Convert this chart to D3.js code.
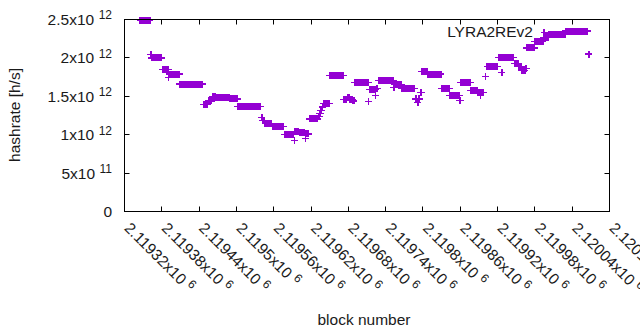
<!DOCTYPE html>
<html><head><meta charset="utf-8">
<script src="https://cdn.jsdelivr.net/npm/d3@7"></script>
<style>
body{margin:0;background:#fff}
svg{display:block}
text{font-family:"Liberation Sans",Arial,sans-serif;fill:#1a1a1a}
</style>
</head><body>
<svg id="chart" width="640" height="330"></svg>
<script>
// ---- data (block offsets relative to blockBase; hashrate in units of 1e12 h/s) ----
const blockBase = 2119320;
const runStart = [25,42,44,61,71,72,89,127,135,141,147,169,182,220,222,226,238,257,273,274,281,291,292,297,312,314,316,318,320,330,353,358,362,367,370,393,394,404,405,408,433,435,446,468,471,473,476,478,488,510,523,539,541,557,568,572,573,580,583,601,607,608,627,634,639,645,647,660,674,682,710,747];
const runEnd   = [41,43,60,70,71,88,126,134,140,146,168,181,219,221,225,237,256,272,273,280,290,291,296,311,313,315,317,319,329,352,357,361,366,369,392,393,403,404,407,432,434,445,467,470,472,475,477,487,509,522,538,540,556,567,571,572,578,581,600,606,607,626,633,638,644,646,659,673,681,709,745,747];
const runRate  = [2.49,2.045,2.0,1.845,1.745,1.79,1.66,1.39,1.44,1.50,1.485,1.465,1.37,1.22,1.185,1.145,1.105,1.005,0.925,1.04,1.03,0.955,1.01,1.205,1.24,1.28,1.32,1.36,1.405,1.77,1.455,1.48,1.46,1.44,1.675,1.43,1.59,1.515,1.605,1.705,1.61,1.65,1.605,1.465,1.415,1.465,1.545,1.82,1.79,1.60,1.51,1.445,1.675,1.575,1.55,1.51,1.55,1.755,1.89,2.01,1.806,2.01,1.93,1.885,1.84,1.86,2.13,2.215,2.265,2.31,2.35,2.05];

const xTickValues   = [2119320,2119380,2119440,2119500,2119560,2119620,2119680,2119740,2119800,2119860,2119920,2119980,2120040,2120100];
const xTickMantissa = ["2.11932","2.11938","2.11944","2.1195","2.11956","2.11962","2.11968","2.11974","2.1198","2.11986","2.11992","2.11998","2.12004","2.1201"];
const xTickExponent = "6";
const yTickValues   = [0,5e11,1e12,1.5e12,2e12,2.5e12];
const yTickMantissa = ["0","5x10","1x10","1.5x10","2x10","2.5x10"];
const yTickExponent = ["","11","12","12","12","12"];
const seriesName = "LYRA2REv2";
const xTitle = "block number";
const yTitle = "hashrate [h/s]";

// ---- build point table ----
const points = [];
runStart.forEach((s, i) => {
  for (let b = s; b <= runEnd[i]; b++) points.push({block: blockBase + b, rate: runRate[i] * 1e12});
});

const svg = d3.select("#chart");
const L = 124.5, R = 609.5, T = 19.5, B = 211.5;
const color = "#9400d3";
const x = d3.scaleLinear().domain([2119320, 2120100]).range([L, R]);
const y = d3.scaleLinear().domain([0, 2.5e12]).range([B, T]);
const tick = 5, ps = 3.5;

// ticks (inward, mirrored)
const g = svg.append("g").attr("stroke", "#000").attr("stroke-width", 1);
xTickValues.forEach(v => {
  const px = Math.round(x(v) - 0.5) + 0.5;
  g.append("line").attr("x1", px).attr("x2", px).attr("y1", B).attr("y2", B - tick);
  g.append("line").attr("x1", px).attr("x2", px).attr("y1", T).attr("y2", T + tick);
});
yTickValues.forEach(v => {
  const py = Math.round(y(v) - 0.5) + 0.5;
  g.append("line").attr("x1", L).attr("x2", L + tick).attr("y1", py).attr("y2", py);
  g.append("line").attr("x1", R).attr("x2", R - tick).attr("y1", py).attr("y2", py);
});

// y tick labels
yTickValues.forEach((v, i) => {
  const t = svg.append("text").attr("x", 112).attr("y", y(v) + 5.4)
    .attr("text-anchor", "end").style("font-size", "15.5px");
  t.append("tspan").text(yTickMantissa[i]);
  if (yTickExponent[i]) t.append("tspan").attr("dx", 4.5).attr("dy", -5.5).style("font-size", "12px").text(yTickExponent[i]);
});

// x tick labels (rotated)
xTickValues.forEach((v, i) => {
  const t = svg.append("text")
    .attr("transform", `translate(${x(v) - 1},${229}) rotate(45)`)
    .attr("text-anchor", "start").style("font-size", "15.5px");
  t.append("tspan").text(xTickMantissa[i] + "x10");
  t.append("tspan").attr("dx", 4.5).attr("dy", -5.5).style("font-size", "12px").text(xTickExponent);
});

// titles
svg.append("text").attr("x", 364).attr("y", 325).attr("text-anchor", "middle").style("font-size", "15.5px").text(xTitle);
svg.append("text").attr("transform", "translate(20,115) rotate(-90)").attr("text-anchor", "middle").style("font-size", "15.5px").text(yTitle);

// points
svg.append("g").attr("shape-rendering", "crispEdges").selectAll("path").data(points).join("path")
  .attr("d", d => {
    const px = x(d.block), py = y(d.rate);
    return `M${px - ps},${py}h${2 * ps}M${px},${py - ps}v${2 * ps}`;
  })
  .attr("fill", "none").attr("stroke", color).attr("stroke-width", 1.2);

// key
svg.append("text").attr("x", 533).attr("y", 36.5).attr("text-anchor", "end").style("font-size", "15.5px").text(seriesName);
svg.append("path").attr("d", `M${544 - ps},32.5h${2 * ps}M544,${32.5 - ps}v${2 * ps}`)
  .attr("fill", "none").attr("stroke", color).attr("stroke-width", 1.2).attr("shape-rendering", "crispEdges");

// border
svg.append("rect").attr("x", L).attr("y", T).attr("width", R - L).attr("height", B - T)
  .attr("fill", "none").attr("stroke", "#000").attr("stroke-width", 1);
</script>
</body></html>
